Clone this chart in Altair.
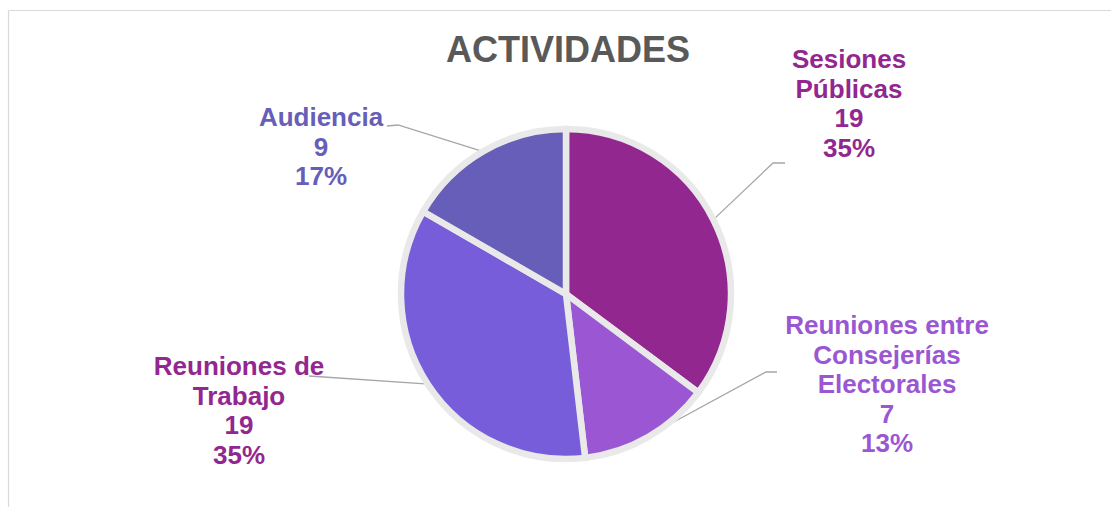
import math
import altair as alt
import pandas as pd

# ---- data ----
categories = ["Sesiones Públicas", "Reuniones entre Consejerías Electorales",
              "Reuniones de Trabajo", "Audiencia"]
label_names = ["Sesiones\nPúblicas", "Reuniones entre\nConsejerías\nElectorales",
               "Reuniones de\nTrabajo", "Audiencia"]
values = [19, 7, 19, 9]
slice_colors = ["#92278F", "#9B57D3", "#775DD9", "#665EB8"]
label_colors = ["#92278F", "#9B57D3", "#92278F", "#665EB8"]
title_text = "ACTIVIDADES"

# ---- layout (style constants) ----
W, H = 1111, 507
CX, CY, R = 566, 294, 165
EDGE_R = 164
label_pos = [(849, 68), (887, 334), (239, 375), (321, 126)]
leader_tail = [
    [(773, 163), (785, 163)],
    [(766, 372), (777, 372)],
    [(309, 376)],
    [(398, 125), (387, 126)],
]

total = sum(values)
pie_df = pd.DataFrame({"cat": categories, "value": values, "idx": range(len(values))})

# leader lines computed from slice mid-angles
rows = []
cum = 0
for i, v in enumerate(values):
    mid = (cum + v / 2) / total * 2 * math.pi
    cum += v
    pts = [(CX + EDGE_R * math.sin(mid), CY - EDGE_R * math.cos(mid))] + leader_tail[i]
    for j, (px, py) in enumerate(pts):
        rows.append({"cat": categories[i], "k": j, "px": px, "py": py})
lines_df = pd.DataFrame(rows)

lab_rows = []
for i, v in enumerate(values):
    pct = round(v / total * 100)
    lab_rows.append({
        "txt": f"{label_names[i]}\n{v}\n{pct}%",
        "px": label_pos[i][0], "py": label_pos[i][1], "col": label_colors[i],
    })
lab_df = pd.DataFrame(lab_rows)

one = pd.DataFrame({"a": [0]})

pie = alt.Chart(pie_df).mark_arc(radius=R, stroke="#e9e9e9", strokeWidth=6.5).encode(
    theta=alt.Theta("value:Q", stack=True),
    order=alt.Order("idx:Q", sort="ascending"),
    color=alt.Color("cat:N", scale=alt.Scale(domain=categories, range=slice_colors), legend=None),
    x=alt.value(CX), y=alt.value(CY),
)

leaders = alt.Chart(lines_df).mark_line(color="#a6a6a6", strokeWidth=1.3).encode(
    x=alt.X("px:Q", scale=None), y=alt.Y("py:Q", scale=None),
    detail="cat:N", order="k:Q",
)

labels = alt.Chart(lab_df).mark_text(
    font="Liberation Sans", fontWeight="bold", fontSize=26, lineBreak="\n",
    lineHeight=29.5, baseline="alphabetic", align="center",
).encode(
    x=alt.X("px:Q", scale=None), y=alt.Y("py:Q", scale=None),
    text="txt:N", color=alt.Color("col:N", scale=None),
)

title = alt.Chart(one).mark_text(
    text=title_text, font="Liberation Sans", fontWeight="bold", fontSize=36,
    color="#595959", align="center", baseline="alphabetic",
).encode(x=alt.value(568), y=alt.value(62))

frame_left = alt.Chart(one).mark_rule(color="#d9d9d9", strokeWidth=1.2).encode(
    x=alt.value(8.5), y=alt.value(10.5), y2=alt.value(H + 5))
frame_top = alt.Chart(one).mark_rule(color="#d9d9d9", strokeWidth=1.2).encode(
    x=alt.value(8.5), x2=alt.value(W + 5), y=alt.value(10.5))

chart = alt.layer(frame_left, frame_top, leaders, pie, labels, title).resolve_scale(
    color="independent"
).properties(
    width=W, height=H, autosize=alt.AutoSizeParams(type="none"), padding=0,
    background="white",
).configure_view(stroke=None)

chart.save("out.html", embed_options={"renderer": "svg", "actions": False})
